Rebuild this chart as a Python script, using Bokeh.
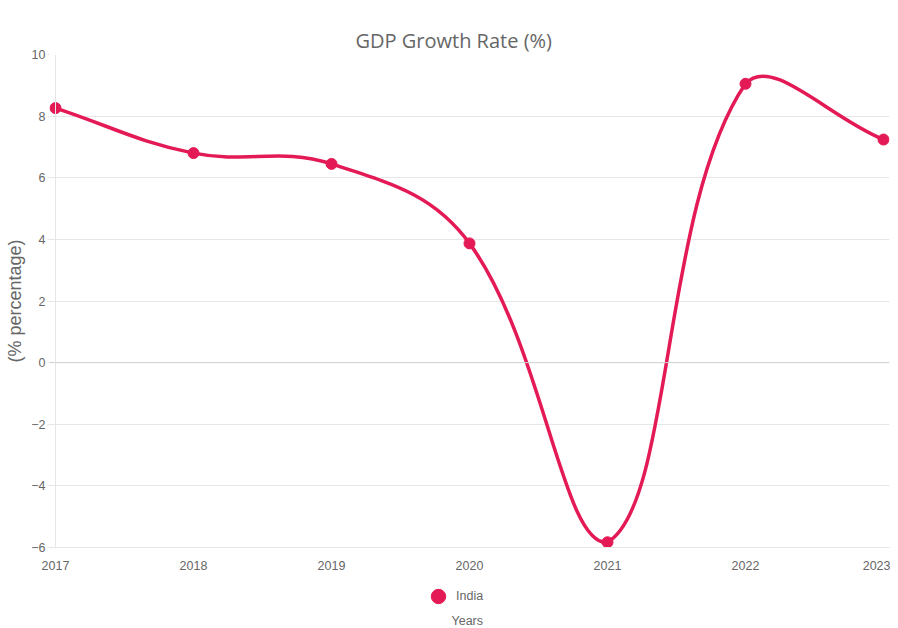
import math
from bokeh.plotting import figure
from bokeh.layouts import column
from bokeh.models import Legend, LegendItem, Span, FixedTicker, Range1d, ColumnDataSource
from bokeh.embed import file_html
from bokeh.resources import INLINE

# ---- data ----
years = [2017, 2018, 2019, 2020, 2021, 2022, 2023]
gdp = [8.26, 6.80, 6.45, 3.87, -5.83, 9.05, 7.24]
y_ticks = [-6, -4, -2, 0, 2, 4, 6, 8, 10]
series_name = "India"
title_text = "GDP Growth Rate (%)"
y_label = "(% percentage)"
x_label = "Years"

COLOR = "#E31A55"
GRID = "#e6e6e6"
TXT = "#666666"

y_min, y_max = -6, 10
x_min, x_max = years[0], years[-1]

# pixel scales (only used to reproduce Chart.js spline control points)
SX = 138.0   # px per year
SY = 30.8    # px per unit
tension = 0.4
PAD = 6 / SX  # small horizontal padding so end markers are not clipped

n = len(years)
cp_prev = [None] * n
cp_next = [None] * n
clamp = lambda v, lo, hi: max(lo, min(hi, v))
for i in range(n):
    cx, cy = years[i], gdp[i]
    px, py = (years[i - 1], gdp[i - 1]) if i > 0 else (cx, cy)
    nx, ny = (years[i + 1], gdp[i + 1]) if i < n - 1 else (cx, cy)
    d01 = math.hypot((cx - px) * SX, (cy - py) * SY)
    d12 = math.hypot((nx - cx) * SX, (ny - cy) * SY)
    tot = d01 + d12
    s01 = d01 / tot if tot else 0
    s12 = d12 / tot if tot else 0
    fa = tension * s01
    fb = tension * s12
    a = (cx - fa * (nx - px), cy - fa * (ny - py))
    b = (cx + fb * (nx - px), cy + fb * (ny - py))
    cp_prev[i] = (clamp(a[0], x_min, x_max), clamp(a[1], y_min, y_max))
    cp_next[i] = (clamp(b[0], x_min, x_max), clamp(b[1], y_min, y_max))

seg = ColumnDataSource(dict(
    x0=years[:-1], y0=gdp[:-1], x1=years[1:], y1=gdp[1:],
    cx0=[cp_next[i][0] for i in range(n - 1)], cy0=[cp_next[i][1] for i in range(n - 1)],
    cx1=[cp_prev[i + 1][0] for i in range(n - 1)], cy1=[cp_prev[i + 1][1] for i in range(n - 1)],
))

# ---------------- main chart ----------------
p = figure(frame_width=840, frame_height=493, output_backend="svg", toolbar_location=None,
           x_range=Range1d(x_min - PAD, x_max + PAD), y_range=Range1d(y_min, y_max),
           min_border_left=49, min_border_right=1, min_border_top=54, min_border_bottom=0)
p.outline_line_color = None
p.background_fill_color = "white"

p.title.text = title_text
p.title.text_font = "Open Sans"
p.title.text_font_size = "20px"
p.title.text_font_style = "normal"
p.title.text_color = TXT
p.title.align = "left"
p.title.vertical_align = "middle"
p.title.offset = 306
p.title.standoff = 0

p.xgrid.visible = False
p.ygrid.grid_line_color = GRID
p.ygrid.ticker = FixedTicker(ticks=y_ticks)
p.add_layout(Span(location=0, dimension="width", line_color="#d0d0d0", line_width=1))
p.add_layout(Span(location=x_min, dimension="height", line_color=GRID, line_width=1))

p.yaxis.ticker = FixedTicker(ticks=y_ticks)
p.yaxis.axis_label = y_label
p.yaxis.axis_label_text_font = "Liberation Sans"
p.yaxis.axis_label_text_font_size = "18px"
p.yaxis.axis_label_text_font_style = "normal"
p.yaxis.axis_label_text_color = TXT
p.yaxis.axis_label_standoff = 3
p.yaxis.axis_line_color = None
p.yaxis.major_tick_line_color = GRID
p.yaxis.major_tick_out = 2
p.yaxis.major_tick_in = 0
p.yaxis.minor_tick_line_color = None
p.yaxis.major_label_standoff = 2
p.yaxis.major_label_text_font = "Liberation Sans"
p.yaxis.major_label_text_font_size = "12.5px"
p.yaxis.major_label_text_color = TXT

p.xaxis.ticker = FixedTicker(ticks=years)
p.xaxis.axis_line_color = GRID
p.xaxis.major_tick_line_color = None
p.xaxis.major_tick_out = 0
p.xaxis.major_tick_in = 0
p.xaxis.minor_tick_line_color = None
p.xaxis.major_label_standoff = 13
p.xaxis.major_label_text_font = "Liberation Sans"
p.xaxis.major_label_text_font_size = "12.5px"
p.xaxis.major_label_text_color = TXT

p.bezier(x0="x0", y0="y0", x1="x1", y1="y1", cx0="cx0", cy0="cy0", cx1="cx1", cy1="cy1",
         source=seg, line_color=COLOR, line_width=3.5)
p.scatter(years, gdp, size=11, marker="circle", fill_color=COLOR, line_color=COLOR)

# ---------------- legend strip + x-axis title ----------------
p2 = figure(width=890, height=55, output_backend="svg", toolbar_location=None,
            x_range=Range1d(0, 1), y_range=Range1d(0, 1),
            x_axis_location=None, y_axis_location=None,
            min_border=0, title_location="below")
p2.min_border_top = 9
p2.outline_line_color = None
p2.grid.visible = False
# proxy renderer (its point lies outside the strip's ranges, so only the legend shows it)
proxy = p2.scatter(years[:1], gdp[:1], size=11, marker="circle", fill_color=COLOR, line_color=COLOR)
legend = Legend(items=[LegendItem(label=series_name, renderers=[proxy])],
                location="center", orientation="horizontal",
                glyph_width=36, glyph_height=36, label_standoff=-12, label_width=62,
                padding=0, margin=0, spacing=0,
                border_line_color=None, background_fill_alpha=0,
                label_text_font="Liberation Sans", label_text_font_size="12.5px",
                label_text_color=TXT)
p2.add_layout(legend, "center")
p2.title.text = x_label
p2.title.text_font = "Liberation Sans"
p2.title.text_font_size = "12.5px"
p2.title.text_font_style = "normal"
p2.title.text_color = TXT
p2.title.align = "left"
p2.title.offset = 402
p2.title.standoff = 0

layout = column(p, p2, spacing=0)
open("out.html", "w").write(file_html(layout, INLINE))
